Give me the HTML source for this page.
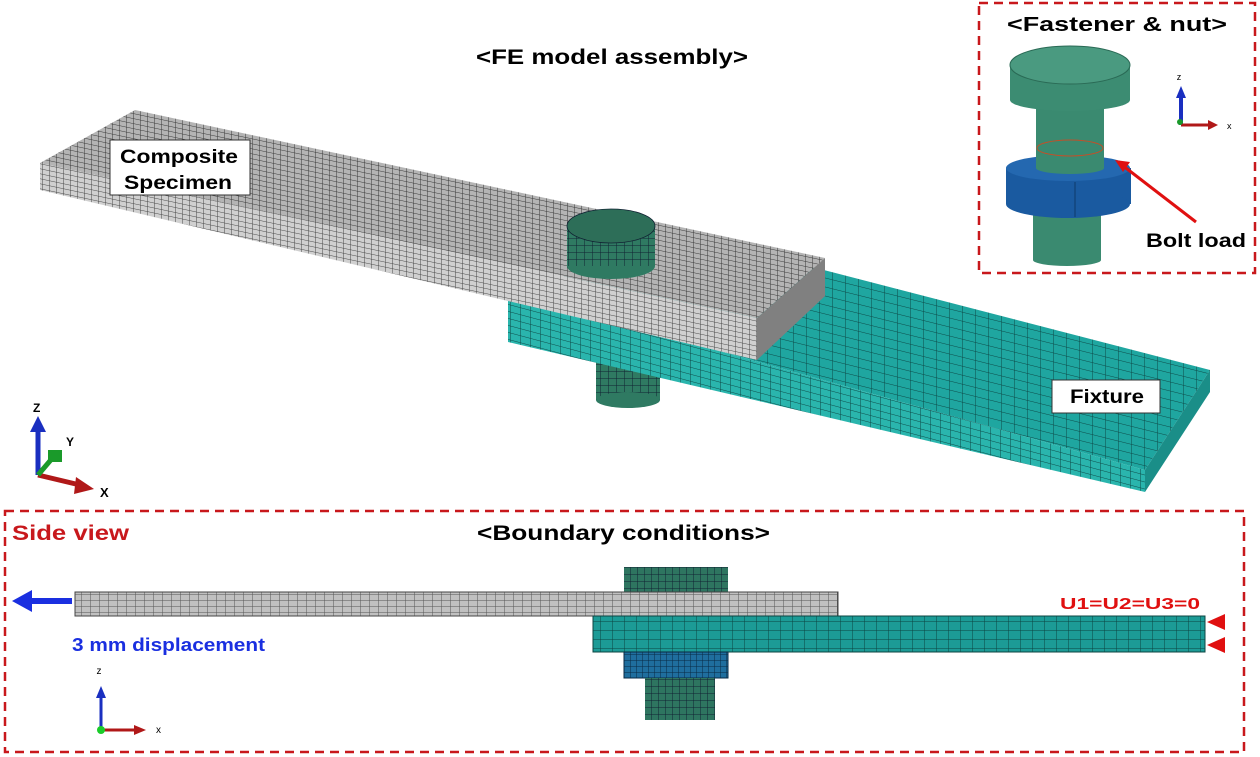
<!DOCTYPE html>
<html><head><meta charset="utf-8"><style>
html,body{margin:0;padding:0;background:#fff}
svg{display:block;font-family:"Liberation Sans",sans-serif}
</style></head><body>
<svg width="1260" height="757" viewBox="0 0 1260 757" xmlns="http://www.w3.org/2000/svg">
<defs>
<pattern id="gTop" width="7" height="5" patternUnits="userSpaceOnUse" patternTransform="skewY(12)">
<rect width="7" height="5" fill="#b4b4b4"/><path d="M0 0H7M0 0V5" stroke="#3a3a3a" stroke-width="1"/></pattern>
<pattern id="gSide" width="7" height="5" patternUnits="userSpaceOnUse" patternTransform="skewY(12)">
<rect width="7" height="5" fill="#d0d0d0"/><path d="M0 0H7M0 0V5" stroke="#4a4a4a" stroke-width="1"/></pattern>
<pattern id="tTop" width="13" height="9" patternUnits="userSpaceOnUse" patternTransform="skewY(14)">
<rect width="13" height="9" fill="#1fa6a0"/><path d="M0 0H13M0 0V9" stroke="#0d4a48" stroke-width="1"/></pattern>
<pattern id="tSide" width="10" height="7" patternUnits="userSpaceOnUse" patternTransform="skewY(15)">
<rect width="10" height="7" fill="#2ab5ad"/><path d="M0 0H10M0 0V7" stroke="#0d4a48" stroke-width="1"/></pattern>
<pattern id="bolt" width="8" height="7" patternUnits="userSpaceOnUse">
<rect width="8" height="7" fill="#2f7a62"/><path d="M0 0H8M0 0V7" stroke="#123" stroke-width="1"/></pattern>
<pattern id="sg" width="9" height="6" patternUnits="userSpaceOnUse">
<rect width="9" height="6" fill="#c0c0c0"/><path d="M0 0H9M0 0V6" stroke="#555" stroke-width="1"/></pattern>
<pattern id="st" width="12" height="9" patternUnits="userSpaceOnUse">
<rect width="12" height="9" fill="#1c9b96"/><path d="M0 0H12M0 0V9" stroke="#0c4442" stroke-width="1"/></pattern>
<pattern id="sb" width="6" height="6" patternUnits="userSpaceOnUse">
<rect width="6" height="6" fill="#1f6e9e"/><path d="M0 0H6M0 0V6" stroke="#0a2a44" stroke-width="1"/></pattern>
<pattern id="sk" width="7" height="7" patternUnits="userSpaceOnUse">
<rect width="7" height="7" fill="#2e7560"/><path d="M0 0H7M0 0V7" stroke="#123" stroke-width="1"/></pattern>
</defs>

<text x="476" y="64" font-size="21" font-weight="bold" textLength="272" lengthAdjust="spacingAndGlyphs">&lt;FE model assembly&gt;</text>

<rect x="596" y="352" width="64" height="48" fill="url(#bolt)"/>
<ellipse cx="628" cy="400" rx="32" ry="8" fill="#2f7a62"/>
<ellipse cx="622" cy="352" rx="40" ry="8" fill="#1f5fa0"/>

<polygon points="700,238 1210,370 1145,470 508,292" fill="url(#tTop)"/>
<polygon points="508,292 1145,470 1145,492 508,342" fill="url(#tSide)"/>
<polygon points="1145,470 1210,370 1210,392 1145,492" fill="#1a8e88"/>

<polygon points="135,110 825,258 757,318 40,163" fill="url(#gTop)"/>
<polygon points="40,163 757,318 757,360 40,190" fill="url(#gSide)"/>
<polygon points="757,318 825,258 825,296 757,360" fill="#808080"/>

<rect x="567" y="226" width="88" height="40" fill="url(#bolt)"/>
<ellipse cx="611" cy="266" rx="44" ry="13" fill="#2f7a62"/>
<rect x="567" y="226" width="88" height="40" fill="url(#bolt)"/>
<ellipse cx="611" cy="226" rx="44" ry="17" fill="#2d6e58" stroke="#123" stroke-width="0.8"/>

<rect x="110" y="140" width="140" height="55" fill="#fff" stroke="#333"/>
<text x="120" y="163" font-size="19" font-weight="bold" textLength="118" lengthAdjust="spacingAndGlyphs">Composite</text>
<text x="124" y="189" font-size="19" font-weight="bold" textLength="108" lengthAdjust="spacingAndGlyphs">Specimen</text>
<rect x="1052" y="380" width="108" height="33" fill="#fff" stroke="#333"/>
<text x="1070" y="403" font-size="19" font-weight="bold" textLength="74" lengthAdjust="spacingAndGlyphs">Fixture</text>

<line x1="38" y1="475" x2="38" y2="428" stroke="#1a2fc0" stroke-width="5"/>
<polygon points="30,432 38,416 46,432" fill="#1a2fc0"/>
<line x1="38" y1="475" x2="80" y2="485" stroke="#b01818" stroke-width="5"/>
<polygon points="76,477 94,489 74,494" fill="#b01818"/>
<line x1="38" y1="475" x2="55" y2="455" stroke="#1a9a2a" stroke-width="5"/>
<rect x="48" y="450" width="14" height="12" fill="#1a9a2a"/>
<text x="33" y="412" font-size="12" font-weight="bold">Z</text>
<text x="66" y="446" font-size="12" font-weight="bold">Y</text>
<text x="100" y="497" font-size="13" font-weight="bold">X</text>

<rect x="979" y="3" width="276" height="270" fill="none" stroke="#c8181c" stroke-width="2.5" stroke-dasharray="9,6"/>
<text x="1007" y="31" font-size="20" font-weight="bold" textLength="220" lengthAdjust="spacingAndGlyphs">&lt;Fastener &amp; nut&gt;</text>
<rect x="1033" y="210" width="68" height="50" fill="#3a8a70"/>
<ellipse cx="1067" cy="260" rx="34" ry="6" fill="#3a8a70"/>
<rect x="1006" y="168" width="125" height="36" fill="#1a5aa0"/>
<ellipse cx="1068" cy="204" rx="62" ry="14" fill="#1a5aa0"/>
<ellipse cx="1068" cy="168" rx="62" ry="13" fill="#2468b0"/>
<line x1="1075" y1="182" x2="1075" y2="217" stroke="#0e3a6a"/>
<rect x="1036" y="100" width="68" height="68" fill="#3a8a70"/>
<ellipse cx="1070" cy="168" rx="34" ry="6" fill="#3a8a70"/>
<ellipse cx="1070" cy="148" rx="33" ry="8" fill="none" stroke="#c0502a" stroke-width="1"/>
<rect x="1010" y="65" width="120" height="35" fill="#3c8c72"/>
<ellipse cx="1070" cy="100" rx="60" ry="11" fill="#3c8c72"/>
<ellipse cx="1070" cy="65" rx="60" ry="19" fill="#4a9a80" stroke="#2a6a55"/>
<line x1="1122" y1="165" x2="1196" y2="222" stroke="#e01010" stroke-width="3"/>
<polygon points="1115,160 1130,162 1123,172" fill="#e01010"/>
<text x="1146" y="247" font-size="19" font-weight="bold" textLength="100" lengthAdjust="spacingAndGlyphs">Bolt load</text>
<line x1="1181" y1="125" x2="1181" y2="95" stroke="#1a2fc0" stroke-width="4"/>
<polygon points="1176,98 1181,86 1186,98" fill="#1a2fc0"/>
<line x1="1181" y1="125" x2="1210" y2="125" stroke="#b01818" stroke-width="3"/>
<polygon points="1208,120 1218,125 1208,130" fill="#b01818"/>
<circle cx="1180" cy="122" r="3" fill="#1a9a2a"/>
<text x="1179" y="80" font-size="9" text-anchor="middle">z</text>
<text x="1227" y="129" font-size="9">x</text>

<rect x="5" y="511" width="1239" height="241" fill="none" stroke="#c8181c" stroke-width="2.5" stroke-dasharray="9,6"/>
<text x="12" y="540" font-size="21" font-weight="bold" fill="#c8181c" textLength="117" lengthAdjust="spacingAndGlyphs">Side view</text>
<text x="477" y="540" font-size="21" font-weight="bold" textLength="293" lengthAdjust="spacingAndGlyphs">&lt;Boundary conditions&gt;</text>
<rect x="624" y="567" width="104" height="25" fill="url(#sk)"/>
<rect x="75" y="592" width="763" height="24" fill="url(#sg)" stroke="#444"/>
<rect x="593" y="616" width="612" height="36" fill="url(#st)" stroke="#0c4442"/>
<rect x="624" y="652" width="104" height="26" fill="url(#sb)" stroke="#0a2a44"/>
<rect x="645" y="678" width="70" height="42" fill="url(#sk)"/>
<polygon points="1207,622 1225,614 1225,630" fill="#e01010"/>
<polygon points="1207,645 1225,637 1225,653" fill="#e01010"/>
<text x="1060" y="609" font-size="16" font-weight="bold" fill="#e01010" textLength="140" lengthAdjust="spacingAndGlyphs">U1=U2=U3=0</text>
<line x1="30" y1="601" x2="72" y2="601" stroke="#1a2fe0" stroke-width="6"/>
<polygon points="12,601 32,590 32,612" fill="#1a2fe0"/>
<text x="72" y="651" font-size="18" font-weight="bold" fill="#1a2fe0" textLength="193" lengthAdjust="spacingAndGlyphs">3 mm displacement</text>
<line x1="101" y1="730" x2="101" y2="696" stroke="#1a2fc0" stroke-width="3"/>
<polygon points="96,698 101,686 106,698" fill="#1a2fc0"/>
<line x1="101" y1="730" x2="136" y2="730" stroke="#b01818" stroke-width="3"/>
<polygon points="134,725 146,730 134,735" fill="#b01818"/>
<circle cx="101" cy="730" r="4" fill="#1acc2a"/>
<text x="99" y="674" font-size="10" text-anchor="middle">z</text>
<text x="156" y="733" font-size="10">x</text>
</svg>
</body></html>
